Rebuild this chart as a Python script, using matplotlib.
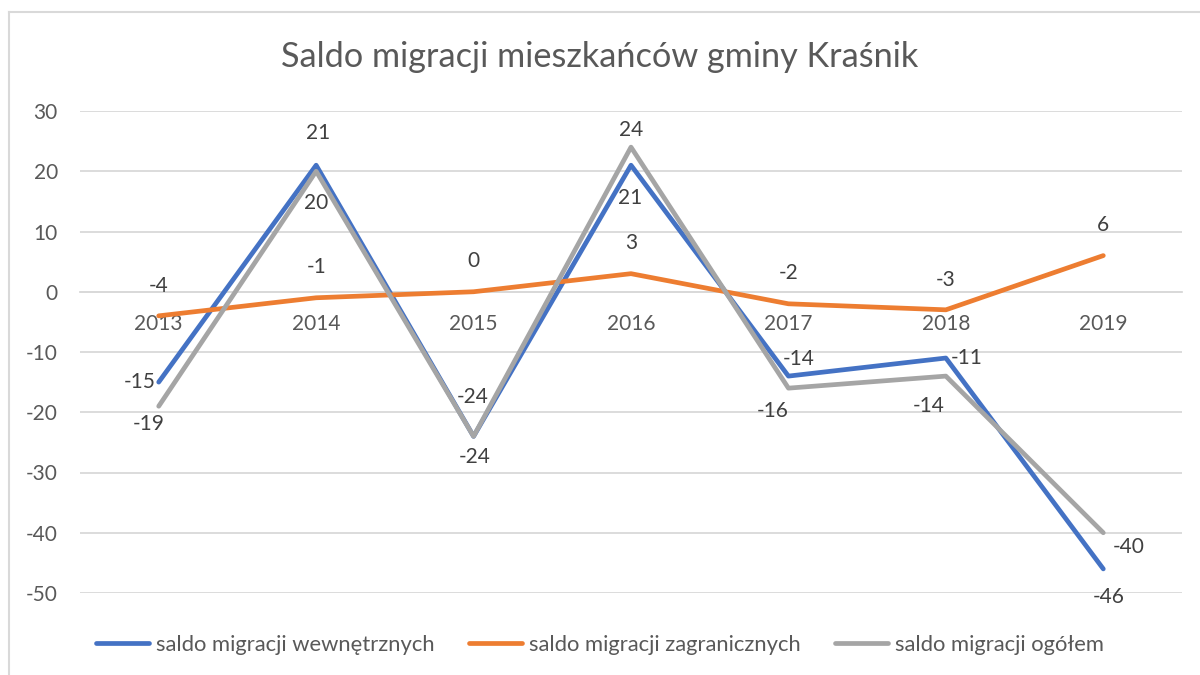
import matplotlib
matplotlib.use('Agg')
import matplotlib.pyplot as plt
from matplotlib.lines import Line2D

# data
years = ['2013', '2014', '2015', '2016', '2017', '2018', '2019']
wewnetrzne = [-15, 21, -24, 21, -14, -11, -46]
zagraniczne = [-4, -1, 0, 3, -2, -3, 6]
ogolem = [-19, 20, -24, 24, -16, -14, -40]

names = ['saldo migracji wewnętrznych', 'saldo migracji zagranicznych', 'saldo migracji ogółem']
colors = ['#4472c4', '#ed7d31', '#a5a5a5']

# label offsets in pixels (dx, dy), dy positive = up
off_blue = [(-19, 0), (2, 32), (-1, 39), (-1, -33), (10, 17), (21, 0), (5, -28)]
off_orange = [(0, 30), (0, 31), (0, 31), (0, 31), (0, 31), (0, 30), (0, 31)]
off_gray = [(-10, -18), (0, -32), (1, -21), (0, 17), (-16, -23), (-17, -30), (25, -14)]

plt.rcParams['font.family'] = ['Lato', 'DejaVu Sans']
plt.rcParams['axes.unicode_minus'] = False
text_col = '#595959'

fig = plt.figure(figsize=(12, 6.75), dpi=100)
ax = fig.add_axes([80 / 1200, 1 - 593 / 675, 1102 / 1200, 482 / 675])

x = list(range(len(years)))
series = [wewnetrzne, zagraniczne, ogolem]
offsets = [off_blue, off_orange, off_gray]
order = [1, 0, 2]
for i in order:
    ax.plot(x, series[i], color=colors[i], lw=3.4, solid_capstyle='round',
            solid_joinstyle='round', zorder=3 + i)
for vals, offs in zip(series, offsets):
    for xi, v, (dx, dy) in zip(x, vals, offs):
        ax.annotate(str(v), (xi, v), xytext=(dx, dy), textcoords='offset pixels',
                    ha='center', va='center', fontsize=15, color='#404040', zorder=10)

ax.set_xlim(-0.5, 6.5)
ax.set_ylim(-50, 30)
ax.set_yticks(range(-50, 31, 10))
ax.grid(axis='y', color='#d9d9d9', lw=1.3)
ax.set_axisbelow(True)
for s in ['top', 'right', 'left']:
    ax.spines[s].set_visible(False)
ax.spines['bottom'].set_position(('data', 0))
ax.spines['bottom'].set_color('#d9d9d9')
ax.spines['bottom'].set_linewidth(1.3)
ax.set_xticks(x)
ax.set_xticklabels(years)
ax.tick_params(axis='x', length=0, pad=16, labelsize=15, labelcolor=text_col)
ax.tick_params(axis='y', length=0, pad=16, labelsize=15, labelcolor=text_col)

fig.text(0.5, 1 - 57 / 675, 'Saldo migracji mieszkańców gminy Kraśnik',
         ha='center', va='center', fontsize=24.7, color=text_col)

handles = [Line2D([], [], color=c, lw=3.4, solid_capstyle='round') for c in colors]
fig.legend(handles, names, loc='center', bbox_to_anchor=(0.5, 1 - 645 / 675), ncol=3,
           frameon=False, fontsize=15.8, labelcolor=text_col, handlelength=2.4,
           handletextpad=0.3, columnspacing=1.6)

# chart frame (top and left edges visible)
fig.add_artist(Line2D([9 / 1200, 9 / 1200], [0, 1 - 12 / 675], color='#d9d9d9', lw=1.5,
                      transform=fig.transFigure))
fig.add_artist(Line2D([9 / 1200, 1], [1 - 12 / 675, 1 - 12 / 675], color='#d9d9d9', lw=1.5,
                      transform=fig.transFigure))

fig.savefig('out.png', dpi=100)
